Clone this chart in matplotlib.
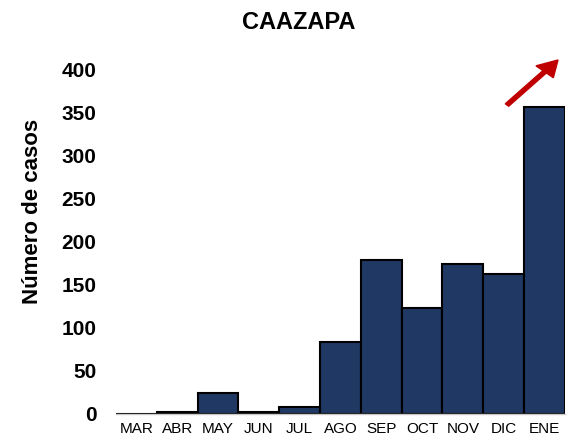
import numpy as np
import matplotlib.pyplot as plt

months = ["MAR", "ABR", "MAY", "JUN", "JUL", "AGO", "SEP", "OCT", "NOV", "DIC", "ENE"]
casos = [0, 2, 24, 2, 8, 84, 179, 123, 174, 163, 357]
yticks = [0, 50, 100, 150, 200, 250, 300, 350, 400]

plt.rcParams['font.family'] = ['Liberation Sans', 'DejaVu Sans']

fig = plt.figure(figsize=(5.77, 4.48), dpi=100)
ax = fig.add_axes([0.201, 0.076, 0.778, 0.768])

x = np.arange(len(months))
ax.bar(x, casos, width=1.0, color="#1F3864", edgecolor="black", linewidth=1.5)

ax.set_xlim(-0.5, len(months) - 0.5)
ax.set_ylim(0, 400)
ax.set_yticks(yticks)
ax.set_yticklabels([str(v) for v in yticks], fontsize=15, fontweight="bold")
ax.set_xticks(x)
ax.set_xticklabels(months, fontsize=11, family=['Liberation Sans Narrow', 'Liberation Sans'])
ax.tick_params(axis="both", length=0)
ax.tick_params(axis="y", pad=14)
ax.tick_params(axis="x", pad=6)

for s in ["top", "right", "left"]:
    ax.spines[s].set_visible(False)
ax.spines["bottom"].set_color("#c8c8c8")
ax.spines["bottom"].set_linewidth(1.0)

ax.set_ylabel("Número de casos", fontsize=16, fontweight="bold")
ax.yaxis.set_label_coords(-0.163, 0.59)
fig.text(0.517, 0.95, "CAAZAPA", ha="center", va="center", fontsize=17, fontweight="bold")

# trend arrow
fig.add_artist(plt.matplotlib.patches.FancyArrow(
    507 / 577, 1 - 105 / 448, 51 / 577, 45 / 448,
    transform=fig.transFigure, width=0.008, head_width=0.04, head_length=0.035,
    length_includes_head=True, color="#C00000"))

fig.savefig("out.png", dpi=100)
